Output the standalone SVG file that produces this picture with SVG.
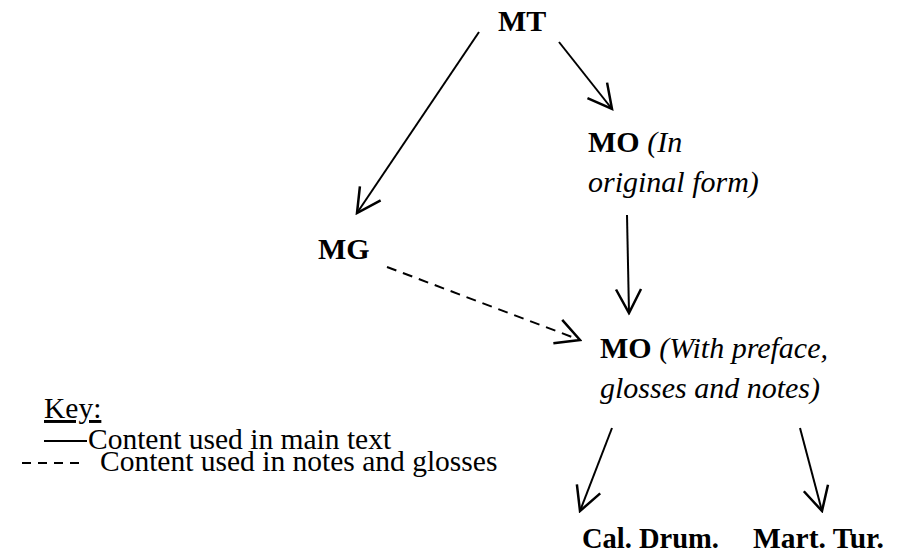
<svg xmlns="http://www.w3.org/2000/svg" width="904" height="558" viewBox="0 0 904 558" font-family="Liberation Serif, Times New Roman, serif">
<style>
text{font-family:'Liberation Serif','Times New Roman',serif;font-size:30px;fill:#000}
.b{font-weight:bold}
.i{font-style:italic}
.k{font-size:29.5px}
.c{stroke:#000;stroke-width:2;fill:none}
.d{stroke-dasharray:10,7}
</style>
<defs>
<marker id="ah" markerUnits="userSpaceOnUse" markerWidth="30" markerHeight="30" viewBox="-22 -12 24 24" refX="0" refY="0" orient="auto">
<path d="M-19,-10 L0,0 L-19,10" fill="none" stroke="#000" stroke-width="2"/>
</marker>
</defs>
<rect width="904" height="558" fill="#fff"/>
<g id="connectors">
<line class="c" x1="479" y1="32" x2="357" y2="213" marker-end="url(#ah)"/>
<line class="c" x1="559" y1="42" x2="612" y2="109" marker-end="url(#ah)"/>
<line class="c" x1="627" y1="215" x2="629" y2="313" marker-end="url(#ah)"/>
<line class="c d" x1="387" y1="267" x2="580" y2="340" marker-end="url(#ah)"/>
<line class="c" x1="612" y1="428" x2="580" y2="511" marker-end="url(#ah)"/>
<line class="c" x1="800" y1="428" x2="822" y2="511" marker-end="url(#ah)"/>
</g>
<g id="MT"><text class="b" x="498" y="31">MT</text></g>
<g id="MO1"><text x="588" y="152"><tspan class="b">MO</tspan><tspan class="i"> (In</tspan></text><text class="i" x="588" y="192">original form)</text></g>
<g id="MG"><text class="b" x="318" y="259">MG</text></g>
<g id="MO2"><text x="600" y="358"><tspan class="b">MO</tspan><tspan class="i"> (With preface,</tspan></text><text class="i" x="600" y="398">glosses and notes)</text></g>
<g id="CalDrum"><text class="b" x="582" y="548" style="font-size:28.5px">Cal. Drum.</text></g>
<g id="MartTur"><text class="b" x="753" y="548" style="font-size:29.5px">Mart. Tur.</text></g>
<g id="key">
<text class="k" x="44" y="418" text-decoration="underline">Key:</text>
<line class="c" x1="44" y1="441" x2="87" y2="441"/>
<text class="k" x="88" y="449">Content used in main text</text>
<line class="c" x1="22" y1="463" x2="84" y2="463" style="stroke-dasharray:9,7"/>
<text class="k" x="100" y="471">Content used in notes and glosses</text>
</g>
</svg>
